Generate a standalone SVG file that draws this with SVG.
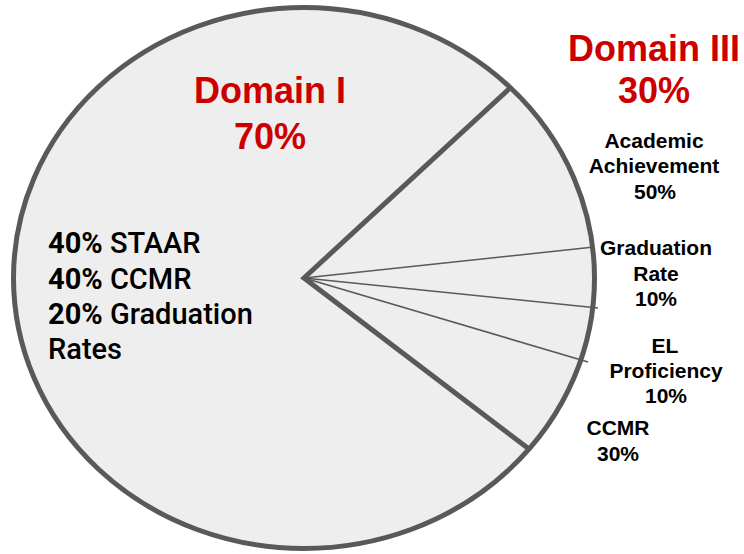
<svg xmlns="http://www.w3.org/2000/svg" width="744" height="554" viewBox="0 0 744 554">
<style>
.pie{fill:#eeeeee;stroke:#595959;stroke-width:5}
.div{fill:none;stroke:#595959;stroke-width:5;stroke-linejoin:miter;stroke-miterlimit:10}
.thin{fill:none;stroke:#595959;stroke-width:1.6}
.dom{font-family:"Liberation Sans",Arial,sans-serif;font-weight:bold;font-size:36px;fill:#cc0000;text-anchor:middle}
.lab{font-family:"Liberation Sans",Arial,sans-serif;font-weight:bold;font-size:21px;fill:#000;text-anchor:middle}
.left{font-family:Roboto,"Liberation Sans",sans-serif;font-size:29px;font-weight:500;fill:#000}
.b{font-weight:bold}
</style>
<g id="pie">
<ellipse class="pie" cx="304" cy="278" rx="290.5" ry="270.5"/>
</g>
<g id="connectors">
<polyline class="div" points="510,88 304,278 529,449"/>
<line class="thin" x1="304" y1="278" x2="594" y2="247"/>
<line class="thin" x1="304" y1="278" x2="598" y2="308"/>
<line class="thin" x1="304" y1="278" x2="588" y2="362"/>
</g>
<g id="domain1">
<text class="dom" x="270" y="103">Domain I</text>
<text class="dom" x="270" y="149">70%</text>
</g>
<g id="domain1-detail">
<text class="left" x="48" y="253"><tspan class="b">40%</tspan> STAAR</text>
<text class="left" x="48" y="288.5"><tspan class="b">40%</tspan> CCMR</text>
<text class="left" x="48" y="324"><tspan class="b">20%</tspan> Graduation</text>
<text class="left" x="48" y="359">Rates</text>
</g>
<g id="domain3">
<text class="dom" x="654" y="61">Domain III</text>
<text class="dom" x="654" y="103">30%</text>
</g>
<g id="academic">
<text class="lab" x="654" y="148">Academic</text>
<text class="lab" x="654" y="173">Achievement</text>
<text class="lab" x="655" y="199">50%</text>
</g>
<g id="graduation">
<text class="lab" x="656" y="255">Graduation</text>
<text class="lab" x="656" y="281">Rate</text>
<text class="lab" x="656" y="306">10%</text>
</g>
<g id="el">
<text class="lab" x="665" y="353">EL</text>
<text class="lab" x="666" y="378">Proficiency</text>
<text class="lab" x="666" y="403">10%</text>
</g>
<g id="ccmr">
<text class="lab" x="618" y="435">CCMR</text>
<text class="lab" x="618" y="461">30%</text>
</g>
</svg>
